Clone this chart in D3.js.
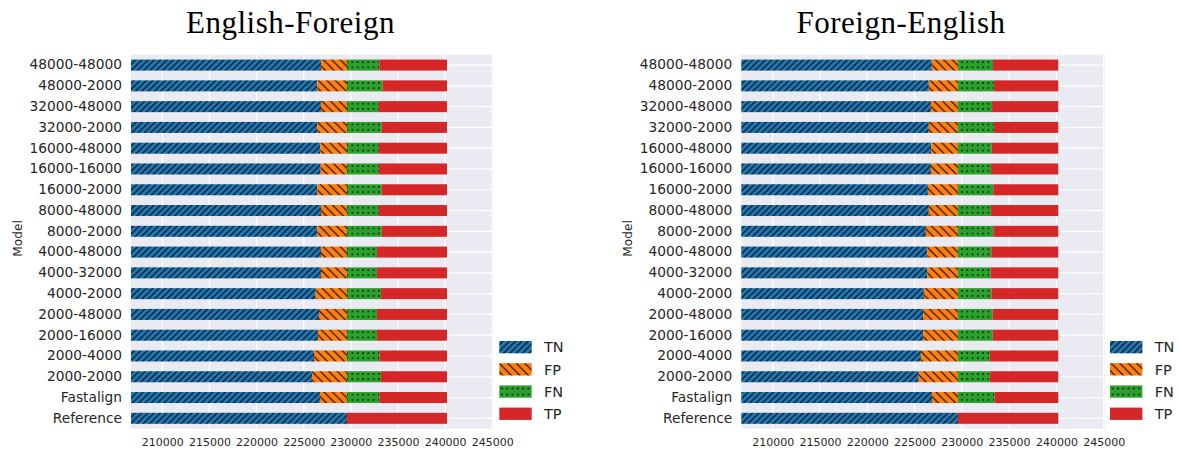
<!DOCTYPE html>
<html><head><meta charset="utf-8">
<script src="https://cdn.jsdelivr.net/npm/d3@7"></script>
<style>body{margin:0;background:#fff}</style>
</head><body><svg id="c" width="1179" height="453"></svg>
<script>
// ---------- data ----------
const categories = ["48000-48000","48000-2000","32000-48000","32000-2000","16000-48000","16000-16000","16000-2000","8000-48000","8000-2000","4000-48000","4000-32000","4000-2000","2000-48000","2000-16000","2000-4000","2000-2000","Fastalign","Reference"];
const seriesNames = ["TN","FP","FN","TP"];
// English-Foreign
const efTN = [226830,226440,226830,226440,226760,226800,226440,226830,226440,226830,226830,226260,226620,226510,226090,225880,226720,229590];
const efFP = [2760,3150,2760,3150,2830,2790,3150,2760,3150,2760,2760,3330,2970,3080,3500,3710,2870,0];
const efFN = [3430,3780,3390,3680,3390,3390,3680,3390,3680,3180,3180,3600,3180,3180,3460,3600,3460,0];
const efTP = [7180,6830,7220,6930,7220,7220,6930,7220,6930,7430,7430,7010,7430,7430,7150,7010,7150,10610];
// Foreign-English
const feTN = [226830,226510,226730,226510,226760,226730,226410,226510,226200,226340,226340,225990,225910,225910,225670,225440,226850,229590];
const feFP = [2760,3080,2860,3080,2830,2860,3180,3080,3390,3250,3250,3600,3680,3680,3920,4150,2740,0];
const feFN = [3710,3820,3610,3820,3570,3500,3750,3500,3750,3530,3450,3530,3680,3680,3370,3370,3880,0];
const feTP = [6900,6790,7000,6790,7040,7110,6860,7110,6860,7080,7160,7080,6930,6930,7240,7240,6730,10610];
const xTicks = [210000,215000,220000,225000,230000,235000,240000,245000];
const xDomain = [206677, 245110];
const titles = ["English-Foreign","Foreign-English"];
const yLabel = "Model";

// ---------- layout ----------
const svg = d3.select("#c");
const plotTop = 54.7, plotBottom = 428.7;
const colors = ["#1f77b4","#ff7f0e","#2ca02c","#d62728"];
const panels = [
  {title: titles[0], left: 131, right: 493.3, series: [efTN, efFP, efFN, efTP], titleX: 290.5, legendX: 499.3, labelX: 21.7},
  {title: titles[1], left: 741.3, right: 1104.7, series: [feTN, feFP, feFN, feTP], titleX: 901, legendX: 1110, labelX: 632}
];
const y = d3.scaleBand().domain(categories).range([plotTop, plotBottom]).paddingInner(0.47).paddingOuter(0.235);
const step = y.step();

// ---------- patterns ----------
const defs = svg.append("defs");
function slashPattern(id, s, color, back) {
  const p = defs.append("pattern").attr("id", id).attr("patternUnits","userSpaceOnUse")
    .attr("width", s).attr("height", s);
  p.append("rect").attr("width", s).attr("height", s).attr("fill", color);
  const d = back
    ? `M0,0L${s},${s}M${-s/4},${3*s/4}L${s/4},${5*s/4}M${3*s/4},${-s/4}L${5*s/4},${s/4}`
    : `M0,${s}L${s},0M${-s/4},${s/4}L${s/4},${-s/4}M${3*s/4},${5*s/4}L${5*s/4},${3*s/4}`;
  p.append("path").attr("d", d).attr("stroke","#000").attr("stroke-width",1.1);
}
slashPattern("pTN", 6.3, colors[0], false);
slashPattern("pFP", 8.5, colors[1], true);
const dotH = step/4;
const firstTop = y(categories[0]);
const pd = defs.append("pattern").attr("id","pFN").attr("patternUnits","userSpaceOnUse")
  .attr("width", 5.3).attr("height", dotH).attr("y", firstTop);
pd.append("rect").attr("width",5.3).attr("height",dotH).attr("fill",colors[2]);
pd.append("circle").attr("cx",2.65).attr("cy",dotH/2).attr("r",0.8).attr("fill","#000");
const fills = ["url(#pTN)","url(#pFP)","url(#pFN)",colors[3]];

// legend pattern for FN (own alignment)
const pdl = defs.append("pattern").attr("id","pFNl").attr("patternUnits","objectBoundingBox")
  .attr("patternContentUnits","userSpaceOnUse").attr("width", 5.3/32.4).attr("height", 0.5);
pdl.append("rect").attr("width",5.3).attr("height",6.15).attr("fill",colors[2]);
pdl.append("circle").attr("cx",2.65).attr("cy",3.07).attr("r",0.8).attr("fill","#000");
const legendFills = ["url(#pTN)","url(#pFP)","url(#pFNl)",colors[3]];

const font = "'DejaVu Sans', sans-serif";

panels.forEach(pn => {
  const x = d3.scaleLinear().domain(xDomain).range([pn.left, pn.right]);
  const g = svg.append("g");
  // background
  g.append("rect").attr("x", pn.left).attr("y", plotTop)
    .attr("width", pn.right - pn.left).attr("height", plotBottom - plotTop).attr("fill","#eaeaf2");
  // grid
  g.selectAll(".vg").data(xTicks).join("line")
    .attr("x1", d => x(d)).attr("x2", d => x(d)).attr("y1", plotTop).attr("y2", plotBottom)
    .attr("stroke","#fff").attr("stroke-width",1.2);
  g.selectAll(".hg").data(categories).join("line")
    .attr("x1", pn.left).attr("x2", pn.right)
    .attr("y1", d => y(d) + y.bandwidth()/2).attr("y2", d => y(d) + y.bandwidth()/2)
    .attr("stroke","#fff").attr("stroke-width",1.2);
  // stacked bars
  const rows = categories.map((c, i) => {
    const o = {cat: c};
    seriesNames.forEach((s, k) => o[s] = pn.series[k][i]);
    return o;
  });
  const stack = d3.stack().keys(seriesNames)(rows);
  stack.forEach((layer, k) => {
    g.append("g").selectAll("rect").data(layer).join("rect")
      .attr("x", d => x(Math.max(d[0], xDomain[0])))
      .attr("width", d => Math.max(0, x(d[1]) - x(Math.max(d[0], xDomain[0]))))
      .attr("y", d => y(d.data.cat)).attr("height", y.bandwidth())
      .attr("fill", fills[k]);
  });
  // x axis
  const ax = g.append("g").attr("transform", `translate(0,${plotBottom})`)
    .call(d3.axisBottom(x).tickValues(xTicks).tickFormat(d3.format("d")).tickSize(0).tickPadding(9.5));
  ax.select(".domain").remove();
  ax.selectAll("text").attr("font-family", font).attr("font-size", 11).attr("fill","#262626");
  // y axis
  const ay = g.append("g").attr("transform", `translate(${pn.left},0)`)
    .call(d3.axisLeft(y).tickSize(0).tickPadding(9));
  ay.select(".domain").remove();
  ay.selectAll("text").attr("font-family", font).attr("font-size", 13.75).attr("fill","#262626");
  // y label
  g.append("text").attr("transform", `translate(${pn.labelX},238.5) rotate(-90)`)
    .attr("text-anchor","middle").attr("font-family", font).attr("font-size", 12.2)
    .attr("fill","#262626").text(yLabel);
  // title
  g.append("text").attr("x", pn.titleX).attr("y", 33.3).attr("text-anchor","middle")
    .attr("font-family","'Liberation Serif', serif").attr("font-size", 31).attr("letter-spacing", 0.5)
    .attr("fill","#000").text(pn.title);
  // legend
  const lg = g.append("g");
  seriesNames.forEach((s, k) => {
    const top = 341 + k * 22.2;
    lg.append("rect").attr("x", pn.legendX).attr("y", top).attr("width", 32.4).attr("height", 12.3)
      .attr("fill", legendFills[k]);
    lg.append("text").attr("x", pn.legendX + 44.7).attr("y", top + 6.15).attr("dy","0.36em")
      .attr("font-family", font).attr("font-size", 14.5).attr("fill","#262626").text(s);
  });
});
</script>
</body></html>
